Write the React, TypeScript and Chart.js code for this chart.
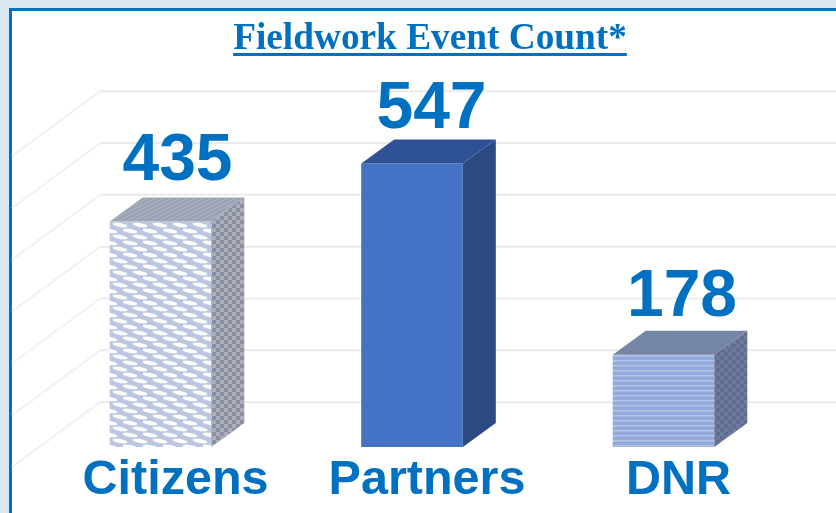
import React, { useEffect, useRef } from "react";
import { Chart, registerables } from "chart.js";

Chart.register(...registerables);

const categories = ["Citizens", "Partners", "DNR"];
const eventCounts = [435, 547, 178];
const wallTicks = [100, 200, 300, 400, 500, 600, 700];
const titleText = "Fieldwork Event Count*";

const BLUE = "#0070c0";
const DEPTH_X = 33;
const DEPTH_Y = 24;
const LABEL_LIFT = [18, 11, 15];
const LABEL_SHIFT = [17, 19.5, 18.5];

function tile(w: number, h: number, paint: (c: CanvasRenderingContext2D) => void) {
  const t = document.createElement("canvas");
  t.width = w;
  t.height = h;
  paint(t.getContext("2d")!);
  return document.createElement("canvas").getContext("2d")!.createPattern(t, "repeat")!;
}

function speckle(dark: string, light: string) {
  return tile(8, 8, (c) => {
    c.fillStyle = dark;
    c.fillRect(0, 0, 8, 8);
    c.fillStyle = light;
    c.fillRect(0, 0, 4, 4);
    c.fillRect(4, 4, 4, 4);
  });
}

function makeFaces() {
  const bricks = tile(20, 12, (c) => {
    c.fillStyle = "#bcc6e0";
    c.fillRect(0, 0, 20, 12);
    c.fillStyle = "#ffffff";
    [[10, 3], [0, 9], [20, 9], [10, 15], [0, -3], [20, -3]].forEach(([x, y]) => {
      c.beginPath();
      c.ellipse(x, y, 7.5, 2, 0.18, 0, Math.PI * 2);
      c.fill();
    });
  });
  const stripes = tile(5, 5, (c) => {
    c.fillStyle = "#92a9dc";
    c.fillRect(0, 0, 5, 5);
    c.fillStyle = "#b4c5e8";
    c.fillRect(0, 0, 5, 1.5);
  });
  const greyTop = tile(8, 4, (c) => {
    c.fillStyle = "#9ca3b3";
    c.fillRect(0, 0, 8, 4);
    c.strokeStyle = "#aeb3c1";
    c.lineWidth = 1;
    c.beginPath();
    c.moveTo(0, 4);
    c.lineTo(8, 0);
    c.stroke();
  });
  return {
    front: [bricks, "#4472c4", stripes],
    top: [greyTop, "#2f5296", "#7585a6"],
    side: [speckle("#8a909f", "#a9aeba"), "#2b4a82", speckle("#5f6e90", "#6c7b9b")],
  };
}

export default function App() {
  const ref = useRef<HTMLCanvasElement>(null);

  useEffect(() => {
    const faces = makeFaces();

    const scene = {
      id: "scene",
      beforeDatasetsDraw(chart: any) {
        const { ctx, scales } = chart;
        const wallLeft = 100;
        ctx.save();
        ctx.lineWidth = 2;
        ctx.lineJoin = "round";
        wallTicks.forEach((v) => {
          const y = scales.y2.getPixelForValue(v);
          ctx.strokeStyle = "#f1f1f1";
          ctx.beginPath();
          ctx.moveTo(12, y + 65);
          ctx.lineTo(wallLeft - 8, y + 6);
          ctx.lineTo(wallLeft, y);
          ctx.stroke();
          ctx.strokeStyle = "#ebebeb";
          ctx.beginPath();
          ctx.moveTo(wallLeft, y);
          ctx.lineTo(chart.width, y);
          ctx.stroke();
        });
        ctx.restore();
      },
      afterDatasetsDraw(chart: any) {
        const { ctx } = chart;
        const bars = chart.getDatasetMeta(0).data;
        ctx.save();
        bars.forEach((bar: any, i: number) => {
          const l = bar.x - bar.width / 2;
          const r = bar.x + bar.width / 2;
          const t = bar.y;
          const b = bar.base;
          ctx.fillStyle = faces.side[i];
          ctx.beginPath();
          ctx.moveTo(r, t);
          ctx.lineTo(r + DEPTH_X, t - DEPTH_Y);
          ctx.lineTo(r + DEPTH_X, b - DEPTH_Y);
          ctx.lineTo(r, b);
          ctx.closePath();
          ctx.fill();
          ctx.fillStyle = faces.top[i];
          ctx.beginPath();
          ctx.moveTo(l, t);
          ctx.lineTo(l + DEPTH_X, t - DEPTH_Y);
          ctx.lineTo(r + DEPTH_X, t - DEPTH_Y);
          ctx.lineTo(r, t);
          ctx.closePath();
          ctx.fill();
          ctx.fillStyle = BLUE;
          ctx.font = 'bold 66px "Liberation Sans"';
          ctx.textAlign = "center";
          ctx.textBaseline = "alphabetic";
          ctx.fillText(String(eventCounts[i]), bar.x + LABEL_SHIFT[i], t - DEPTH_Y - LABEL_LIFT[i]);
        });
        ctx.restore();
      },
      afterDraw(chart: any) {
        const { ctx, titleBlock } = chart;
        ctx.save();
        ctx.font = 'bold 37.3px "Liberation Serif"';
        const w = ctx.measureText(titleText).width;
        const cx = (titleBlock.left + titleBlock.right) / 2;
        ctx.fillStyle = BLUE;
        ctx.fillRect(cx - w / 2, 53, w, 3);
        ctx.restore();
      },
    };

    const chart = new Chart(ref.current!, {
      type: "bar",
      data: {
        labels: categories,
        datasets: [
          {
            data: eventCounts,
            backgroundColor: faces.front as any,
            borderWidth: 0,
            categoryPercentage: 1,
            barPercentage: 0.404,
            yAxisID: "y",
          },
        ],
      },
      options: {
        responsive: false,
        animation: false,
        events: [],
        layout: { padding: { left: 24, right: 0, top: 0, bottom: 0 } },
        plugins: {
          legend: { display: false },
          tooltip: { enabled: false },
          title: {
            display: true,
            text: titleText,
            color: BLUE,
            font: { family: '"Liberation Serif"', size: 37.3, weight: "bold", lineHeight: 1.2 },
            padding: { top: 17, bottom: 0 },
          },
        },
        scales: {
          x: {
            grid: { display: false, drawTicks: false },
            border: { display: false },
            ticks: {
              color: BLUE,
              font: { family: '"Liberation Sans"', size: 48.5, weight: "bold", lineHeight: 1.2 },
              padding: 5,
              labelOffset: 15,
              maxRotation: 0,
              autoSkip: false,
            },
            afterFit: (s: any) => {
              s.height = 66;
            },
          },
          y: {
            min: 0,
            max: 743.2,
            grid: { display: false },
            border: { display: false },
            ticks: { display: false },
            afterFit: (s: any) => {
              s.width = 10.75;
            },
          },
          y2: {
            position: "right",
            min: 13.5,
            max: 756.7,
            grid: { display: false },
            border: { display: false },
            ticks: { display: false },
            afterBuildTicks: (s: any) => {
              s.ticks = wallTicks.map((value) => ({ value }));
            },
            afterFit: (s: any) => {
              s.width = 46.75;
            },
          },
        },
      } as any,
      plugins: [scene],
    });
    return () => chart.destroy();
  }, []);

  return (
    <div style={{ position: "fixed", left: 0, top: 0, width: 836, height: 513, background: "#d9e8f3", overflow: "hidden" }}>
      <div
        style={{
          position: "absolute",
          left: 9,
          top: 8,
          right: 0,
          bottom: 0,
          background: "#ffffff",
          borderLeft: `3px solid ${BLUE}`,
          borderTop: `3px solid ${BLUE}`,
        }}
      />
      <canvas ref={ref} width={836} height={513} style={{ position: "absolute", left: 0, top: 0, display: "block" }} />
    </div>
  );
}
